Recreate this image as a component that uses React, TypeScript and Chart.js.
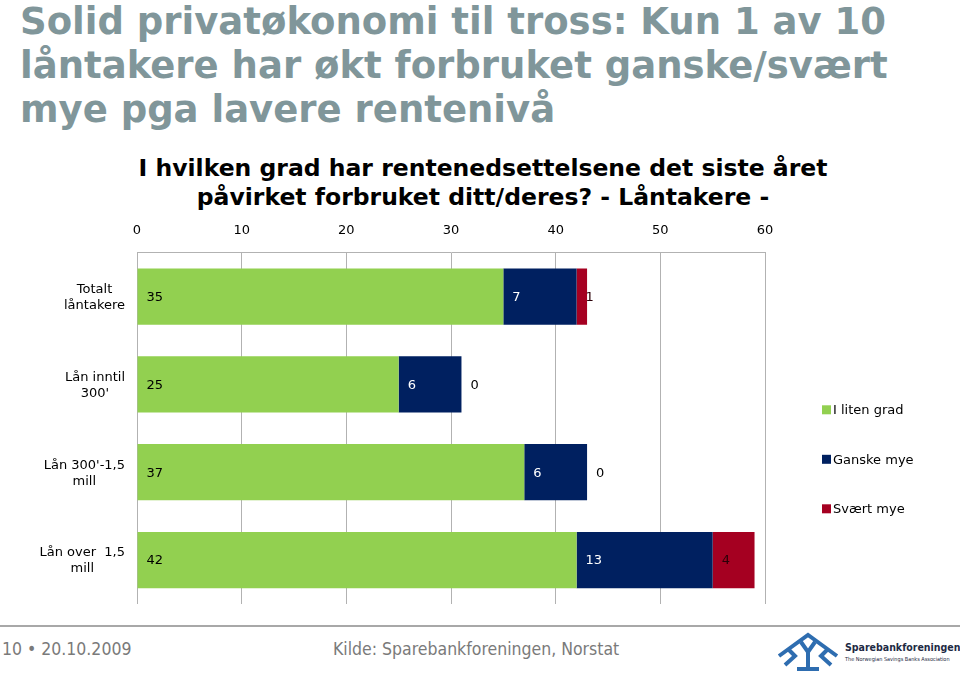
import React, { useEffect, useRef } from "react";
import { Chart, registerables } from "chart.js";

Chart.register(...registerables);

const categories: string[][] = [
  ["Totalt", "låntakere"],
  ["Lån inntil", "300'"],
  ["Lån 300'-1,5", "mill"],
  ["Lån over  1,5", "mill"],
];
const seriesNames = ["I liten grad", "Ganske mye", "Svært mye"];
const litenGrad = [35, 25, 37, 42];
const ganskeMye = [7, 6, 6, 13];
const svaertMye = [1, 0, 0, 4];
const xMin = 0;
const xMax = 60;
const xStep = 10;

const seriesColors = ["#92D050", "#002060", "#A50021"];
const valueLabelColors = ["#000000", "#FFFFFF", "#2a0008"];
const FONT = "'DejaVu Sans', Verdana, sans-serif";

const valueLabels = {
  id: "valueLabels",
  afterDatasetsDraw(chart: any) {
    const ctx = chart.ctx;
    ctx.save();
    ctx.font = `13px ${FONT}`;
    ctx.textBaseline = "middle";
    ctx.textAlign = "left";
    chart.data.datasets.forEach((ds: any, di: number) => {
      const meta = chart.getDatasetMeta(di);
      meta.data.forEach((bar: any, i: number) => {
        const v = ds.data[i];
        const p = bar.getProps(["x", "base", "y"], true);
        const start = Math.min(p.x, p.base);
        ctx.fillStyle = v === 0 ? "#000000" : valueLabelColors[di];
        ctx.fillText(String(v), start + 9, p.y + 1);
      });
    });
    ctx.restore();
  },
};

const categoryLabels = {
  id: "categoryLabels",
  afterDraw(chart: any) {
    const ctx = chart.ctx;
    const yScale = chart.scales.y;
    const right = chart.chartArea.left - 12;
    const lineH = 16;
    ctx.save();
    ctx.font = `13px ${FONT}`;
    ctx.fillStyle = "#000000";
    ctx.textBaseline = "middle";
    ctx.textAlign = "center";
    (chart.data.labels as string[][]).forEach((lines, i) => {
      const yc = yScale.getPixelForValue(i);
      const w = Math.max(...lines.map((l) => ctx.measureText(l).width));
      const cx = right - w / 2;
      const y0 = yc - ((lines.length - 1) * lineH) / 2;
      lines.forEach((l, k) => ctx.fillText(l, cx, y0 + k * lineH + 1));
    });
    ctx.restore();
  },
};

const sideLegend = {
  id: "sideLegend",
  afterDraw(chart: any) {
    const ctx = chart.ctx;
    const area = chart.chartArea;
    const x = area.right + 57;
    const yMid = (area.top + area.bottom) / 2 + 31;
    const gap = 49.5;
    const n = chart.data.datasets.length;
    ctx.save();
    ctx.font = `13px ${FONT}`;
    ctx.textBaseline = "middle";
    ctx.textAlign = "left";
    chart.data.datasets.forEach((ds: any, i: number) => {
      const y = yMid + (i - (n - 1) / 2) * gap;
      ctx.fillStyle = ds.backgroundColor;
      ctx.fillRect(x, y - 4.5, 9, 9);
      ctx.fillStyle = "#000000";
      ctx.fillText(ds.label, x + 11, y + 1);
    });
    ctx.restore();
  },
};

function BarChart() {
  const ref = useRef<HTMLCanvasElement | null>(null);
  useEffect(() => {
    if (!ref.current) return;
    const chart = new Chart(ref.current, {
      type: "bar",
      data: {
        labels: categories as any,
        datasets: [litenGrad, ganskeMye, svaertMye].map((d, i) => ({
          label: seriesNames[i],
          data: d,
          backgroundColor: seriesColors[i],
          borderWidth: 0,
          categoryPercentage: 1,
          barPercentage: 0.64,
        })),
      },
      options: {
        indexAxis: "y",
        responsive: false,
        animation: false,
        layout: { padding: { left: 137, right: 195, top: 12, bottom: 16 } },
        plugins: {
          legend: { display: false },
          title: { display: false },
          tooltip: { enabled: false },
        },
        scales: {
          x: {
            position: "top",
            stacked: true,
            min: xMin,
            max: xMax,
            ticks: {
              stepSize: xStep,
              color: "#000000",
              font: { family: FONT, size: 13 },
              padding: 14,
            },
            grid: { color: "#B2B2B2", drawTicks: false, lineWidth: 1 },
            border: { display: true, color: "#B2B2B2" },
          },
          y: {
            stacked: true,
            display: false,
          },
        },
      },
      plugins: [valueLabels, categoryLabels, sideLegend],
    });
    return () => chart.destroy();
  }, []);
  return (
    <canvas
      ref={ref}
      width={960}
      height={423}
      style={{ position: "absolute", left: 0, top: 197, width: 960, height: 423 }}
    />
  );
}

function Logo() {
  return (
    <svg
      width={66}
      height={40}
      viewBox="0 0 66 40"
      style={{ position: "absolute", left: 775, top: 632 }}
    >
      <g fill="none" stroke="#2E6DB0" strokeWidth={4} strokeLinejoin="miter">
        <polyline points="4,24 33,3 62,24" />
        <polyline points="10,33 20,24 14,18" />
        <polyline points="56,33 46,24 52,18" />
        <polyline points="26,10 33,20 40,10" />
        <line x1={33} y1={20} x2={33} y2={36} />
        <line x1={22} y1={37} x2={44} y2={37} />
      </g>
    </svg>
  );
}

export default function App() {
  return (
    <div
      style={{
        position: "absolute",
        left: 0,
        top: 0,
        width: 960,
        height: 673,
        background: "#FFFFFF",
        overflow: "hidden",
      }}
    >
      <div
        style={{
          position: "absolute",
          left: 20,
          top: 0,
          font: `bold 37px ${FONT}`,
          lineHeight: "44px",
          color: "#80969A",
          whiteSpace: "pre",
        }}
      >
        {"Solid privatøkonomi til tross: Kun 1 av 10\nlåntakere har økt forbruket ganske/svært\nmye pga lavere rentenivå"}
      </div>
      <div
        style={{
          position: "absolute",
          left: 6,
          top: 154,
          width: 954,
          textAlign: "center",
          font: `bold 23.5px ${FONT}`,
          lineHeight: "29px",
          color: "#000000",
          whiteSpace: "pre",
        }}
      >
        {"I hvilken grad har rentenedsettelsene det siste året\npåvirket forbruket ditt/deres? - Låntakere -"}
      </div>
      <BarChart />
      <div
        style={{
          position: "absolute",
          left: 0,
          top: 625,
          width: 960,
          height: 2,
          background: "#A8A8A8",
        }}
      />
      <div
        style={{
          position: "absolute",
          left: 2,
          top: 639,
          font: `17.5px 'DejaVu Sans Condensed', ${FONT}`,
          lineHeight: "20px",
          color: "#7A7A7A",
          whiteSpace: "pre",
        }}
      >
        {"10 • 20.10.2009"}
      </div>
      <div
        style={{
          position: "absolute",
          left: 333,
          top: 639,
          font: `17.5px 'DejaVu Sans Condensed', ${FONT}`,
          lineHeight: "20px",
          color: "#7A7A7A",
          whiteSpace: "pre",
        }}
      >
        {"Kilde: Sparebankforeningen, Norstat"}
      </div>
      <Logo />
      <div
        style={{
          position: "absolute",
          left: 845,
          top: 641,
          font: `bold 10.5px 'DejaVu Sans Condensed', ${FONT}`,
          lineHeight: "13px",
          color: "#1E2A44",
          whiteSpace: "pre",
        }}
      >
        {"Sparebankforeningen"}
      </div>
      <div
        style={{
          position: "absolute",
          left: 845,
          top: 655,
          font: `5.5px 'DejaVu Sans Condensed', ${FONT}`,
          lineHeight: "8px",
          color: "#1E2A44",
          whiteSpace: "pre",
        }}
      >
        {"The Norwegian Savings Banks Association"}
      </div>
    </div>
  );
}
